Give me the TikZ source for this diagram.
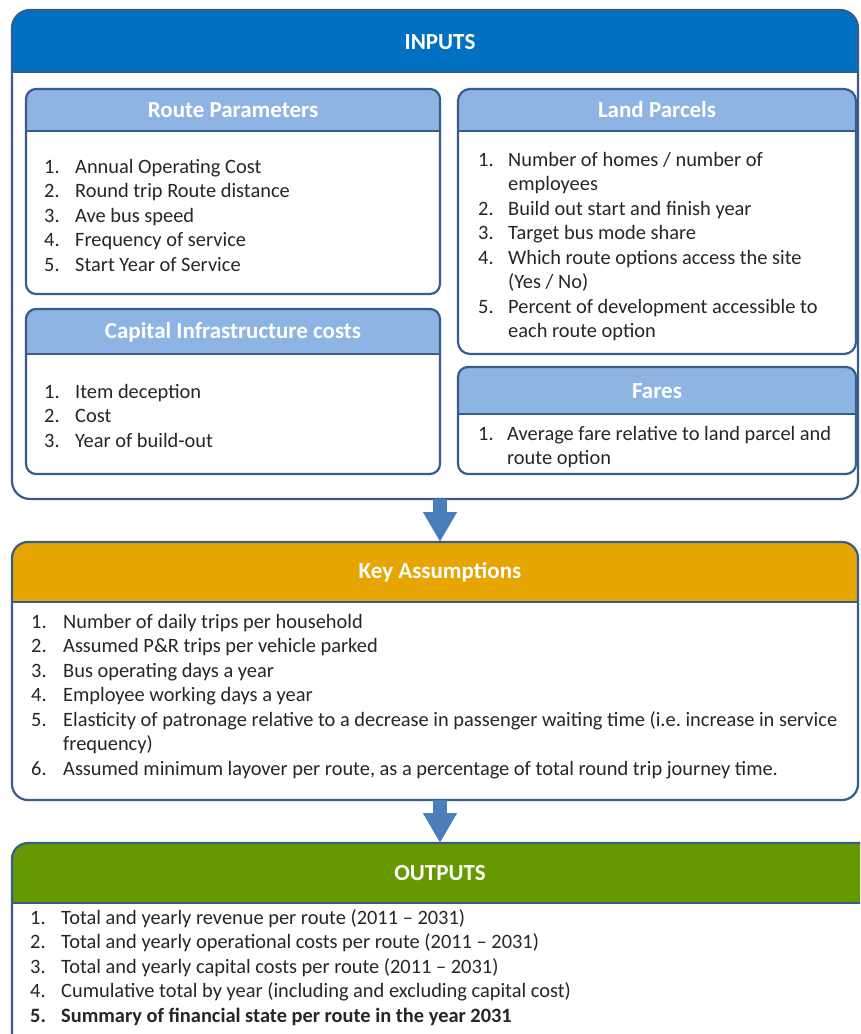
\documentclass[tikz,border=0pt]{standalone}
\usepackage{fontspec}
\setmainfont{Carlito}
\usetikzlibrary{arrows.meta}
\definecolor{edgeblue}{HTML}{385D8A}
\definecolor{inhdr}{HTML}{0070C0}
\definecolor{subhdr}{HTML}{8DB4E2}
\definecolor{kahdr}{HTML}{E6A502}
\definecolor{outhdr}{HTML}{669900}
\definecolor{arrowblue}{HTML}{4A7EBB}
\definecolor{txt}{HTML}{262626}
\tikzset{
  edge/.style={draw=edgeblue, line width=2.2pt},
  frame/.style={inner sep=0, outer sep=0, anchor=north west},
  ttl/.style={text=white, font=\bfseries\fontsize{23}{26}\selectfont, inner sep=0},
  itm/.style={text=txt, font=\fontsize{20.4}{24}\selectfont, inner sep=0},
  flow/.style={draw=arrowblue, line width=14pt, -{Triangle[width=32pt,length=30pt]}}
}
% #1 name, #2 x, #3 y, #4 width, #5 height, #6 header height, #7 colour, #8 radius, #9 title
\newcommand\panel[9]{%
  \node[frame, minimum width=#4, minimum height=#5] (#1) at (#2,-#3) {};
  \begin{scope}
    \clip[rounded corners=#8] (#1.north west) rectangle (#1.south east);
    \fill[white] (#1.north west) rectangle (#1.south east);
    \fill[#7] (#1.north west) rectangle ([yshift=-#6]#1.north east);
  \end{scope}
  \draw[edge] ([yshift=-#6]#1.north west) -- ([yshift=-#6]#1.north east);
  \draw[edge, rounded corners=#8] (#1.north west) rectangle (#1.south east);
}
% name, xnum, xtext, baseline y, number, text
\newcommand\lineitem[6]{%
  \node[itm, anchor=base west] (#1n) at (#2,-#4) {#5};
  \node[itm, anchor=base west] (#1) at (#3,-#4) {#6};
}
% name, xtext, baseline y, text
\newcommand\linecont[4]{%
  \node[itm, anchor=base west] (#1) at (#2,-#3) {#4};
}
\begin{document}
\begin{tikzpicture}[x=1pt, y=1pt]
\useasboundingbox (0,0) rectangle (860,-1034);
\clip (0,0) rectangle (860,-1034);

% INPUTS
\panel{inputs}{12}{10}{846}{489}{62}{inhdr}{18}{}
\node[ttl] (inputs-t) at (440,-42) {INPUTS};

% Route Parameters
\panel{rp}{26}{89}{414}{205}{42}{subhdr}{10}{}
\node[ttl] (rp-t) at (233,-110) {Route Parameters};
\lineitem{rp1}{44}{75}{173}{1.}{Annual Operating Cost}
\lineitem{rp2}{44}{75}{197.5}{2.}{Round trip Route distance}
\lineitem{rp3}{44}{75}{222}{3.}{Ave bus speed}
\lineitem{rp4}{44}{75}{246.5}{4.}{Frequency of service}
\lineitem{rp5}{44}{75}{271}{5.}{Start Year of Service}

% Capital Infrastructure costs
\panel{cap}{26}{309}{414}{165}{45}{subhdr}{10}{}
\node[ttl] (cap-t) at (233,-332) {Capital Infrastructure costs};
\lineitem{cap1}{44}{75}{398}{1.}{Item deception}
\lineitem{cap2}{44}{75}{422.5}{2.}{Cost}
\lineitem{cap3}{44}{75}{447}{3.}{Year of build-out}

% Land Parcels
\panel{lp}{458}{89}{398}{265}{42}{subhdr}{12}{}
\node[ttl] (lp-t) at (657,-110) {Land Parcels};
\lineitem{lp1}{478}{508}{166}{1.}{Number of homes / number of}
\linecont{lp1b}{508}{190.5}{employees}
\lineitem{lp2}{478}{508}{215}{2.}{Build out start and finish year}
\lineitem{lp3}{478}{508}{239.5}{3.}{Target bus mode share}
\lineitem{lp4}{478}{508}{264}{4.}{Which route options access the site}
\linecont{lp4b}{508}{288.5}{(Yes / No)}
\lineitem{lp5}{478}{508}{313}{5.}{Percent of development accessible to}
\linecont{lp5b}{508}{337.5}{each route option}

% Fares
\panel{fa}{458}{367}{398}{107}{47}{subhdr}{10}{}
\node[ttl] (fa-t) at (657,-391) {Fares};
\lineitem{fa1}{478}{507}{440}{1.}{Average fare relative to land parcel and}
\linecont{fa1b}{507}{464}{route option}

% Key Assumptions
\panel{ka}{12}{542}{846}{258}{60}{kahdr}{16}{}
\node[ttl] (ka-t) at (440,-572) {Key Assumptions};
\lineitem{ka1}{31}{63}{628}{1.}{Number of daily trips per household}
\lineitem{ka2}{31}{63}{652.5}{2.}{Assumed P\&R trips per vehicle parked}
\lineitem{ka3}{31}{63}{677}{3.}{Bus operating days a year}
\lineitem{ka4}{31}{63}{701.5}{4.}{Employee working days a year}
\lineitem{ka5}{31}{63}{726}{5.}{Elasticity of patronage relative to a decrease in passenger waiting time (i.e.\ increase in service}
\linecont{ka5b}{63}{750.5}{frequency)}
\lineitem{ka6}{31}{63}{775}{6.}{Assumed minimum layover per route, as a percentage of total round trip journey time.}

% OUTPUTS
\panel{out}{12}{843}{870}{210}{60}{outhdr}{16}{}
\node[ttl] (out-t) at (440,-873) {OUTPUTS};
\lineitem{out1}{30}{61}{924}{1.}{Total and yearly revenue per route (2011 – 2031)}
\lineitem{out2}{30}{61}{948.5}{2.}{Total and yearly operational costs per route (2011 – 2031)}
\lineitem{out3}{30}{61}{973}{3.}{Total and yearly capital costs per route (2011 – 2031)}
\lineitem{out4}{30}{61}{997.5}{4.}{Cumulative total by year (including and excluding capital cost)}
\node[itm, font=\bfseries\fontsize{20.4}{24}\selectfont, anchor=base west] (out5n) at (30,-1022) {5.};
\node[itm, font=\bfseries\fontsize{20.4}{24}\selectfont, anchor=base west] (out5) at (61,-1022) {Summary of financial state per route in the year 2031};

% arrows
\draw[flow] ([xshift=5]inputs.south) -- ([xshift=5]ka.north);
\draw[flow] ([xshift=5]ka.south) -- ([xshift=5]out.north -| ka.south);
\end{tikzpicture}
\end{document}
